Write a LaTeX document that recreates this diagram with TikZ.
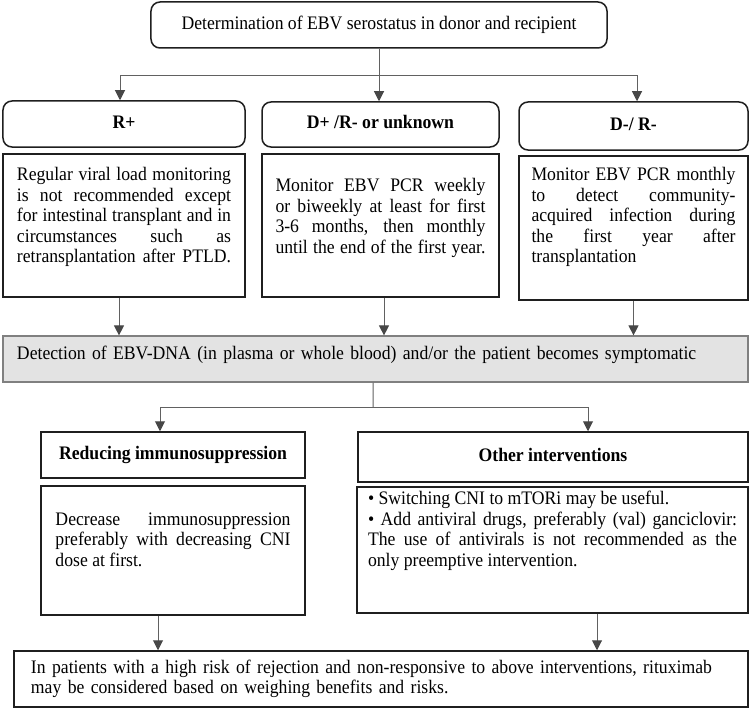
\documentclass[tikz,border=0pt]{standalone}
\usepackage{fontspec}
\setmainfont{Liberation Serif}[FakeStretch=0.925]
\usetikzlibrary{arrows.meta,calc}
\newcommand{\jl}[1]{\makebox[\hsize][s]{\spaceskip=0.25em plus 2em\relax #1}}
\newcommand{\lowpad}[1]{\rule[-#1bp]{0pt}{#1bp}}
\begin{document}
\begin{tikzpicture}[x=1bp,y=-1bp,
  txt/.style={font=\fontsize{19.1bp}{20.5bp}\selectfont, text=black},
  box/.style={txt, draw=black!88, line width=1.5bp, inner sep=0pt, align=justify},
  lbox/.style={box, align=left},
  rbox/.style={box, rounded corners=9bp, align=center},
  head/.style={box, align=center, font=\fontsize{19.1bp}{20.5bp}\selectfont\bfseries, text height=13.1bp, text depth=4.1bp},
  rhead/.style={head, rounded corners=9bp},
  conn/.style={draw=black!62, line width=1bp},
  arr/.style={conn, -{Triangle[width=10bp,length=10bp,fill=black!72,color=black!72]}},
]
\useasboundingbox (0,0) rectangle (750,709);

% top
\node[rbox, minimum width=456bp, minimum height=46bp] (top) at (379,25)
  {Determination of EBV serostatus in donor and recipient};

% headers row 1
\node[rhead, minimum width=242bp, minimum height=46bp] (h1) at (124,124) {R+};
\node[rhead, minimum width=237bp, minimum height=45bp] (h2) at (380.5,124.5) {D+ /R- or unknown};
\node[rhead, minimum width=229bp, minimum height=48bp] (h3) at (633.5,126) {D-/ R-};

% content row 1
\node[box, minimum width=242bp, minimum height=143bp, text width=214bp] (c1) at (124,225.5)
  {\jl{Regular viral load monitoring}\\
   \jl{is not recommended except}\\
   \jl{for intestinal transplant and in}\\
   \jl{circumstances such as}\\
   \jl{retransplantation after PTLD.}\lowpad{21}};
\node[box, minimum width=237bp, minimum height=143bp, text width=210bp] (c2) at (380.5,225.5)
  {\jl{Monitor EBV PCR weekly}\\
   \jl{or biweekly at least for first}\\
   \jl{3-6 months, then monthly}\\
   \jl{until the end of the first year.}\lowpad{19}};
\node[box, minimum width=229bp, minimum height=144bp, text width=204bp] (c3) at (633.5,228)
  {\jl{Monitor EBV PCR monthly}\\
   \jl{to detect community-}\\
   \jl{acquired infection during}\\
   \jl{the first year after}\\
   transplantation\lowpad{26}};

% detection bar
\node[lbox, draw=black!50, line width=1.2bp, fill=black!11, minimum width=745bp, minimum height=46bp, text width=717bp] (bar) at (375.5,359)
  {Detection of EBV-DNA (in plasma or whole blood) and/or the patient becomes symptomatic\lowpad{12}};

% headers row 2
\node[head, minimum width=264bp, minimum height=46bp] (h4) at (173,455) {Reducing immunosuppression};
\node[head, minimum width=390bp, minimum height=50bp] (h5) at (553,457) {Other interventions};

% content row 2
\node[box, minimum width=264bp, minimum height=129bp, text width=235bp] (c4) at (173,550.5)
  {\jl{Decrease immunosuppression}\\
   \jl{preferably with decreasing CNI}\\
   dose at first.\lowpad{22}};
\node[box, minimum width=391bp, minimum height=126bp, text width=369bp] (c5) at (552.5,550)
  {• Switching CNI to mTORi may be useful.\\
   \jl{• Add antiviral drugs, preferably (val) ganciclovir:}\\
   \jl{The use of antivirals is not recommended as the}\\
   only preemptive intervention.\lowpad{42}};

% bottom
\node[lbox, minimum width=734bp, minimum height=56bp, text width=700bp] (bot) at (381,679)
  {In patients with a high risk of rejection and non-responsive to above interventions, rituximab\\
   may be considered based on weighing benefits and risks.};

% connectors
\coordinate (j1) at (379,75.5);
\draw[conn] (top.south) -- (j1);
\draw[arr] (j1) -| ([xshift=-4bp]h1.north);
\draw[arr] (j1) -- (h2.north -| j1);
\draw[arr] (j1) -| ([xshift=3.5bp]h3.north);

\draw[arr] ([xshift=-5bp]c1.south) -- ([xshift=-5bp]c1.south |- bar.north);
\draw[arr] ([xshift=3.5bp]c2.south) -- ([xshift=3.5bp]c2.south |- bar.north);
\draw[arr] (c3.south) -- (c3.south |- bar.north);

\coordinate (j2) at (373,407);
\draw[conn] ([xshift=-2.5bp]bar.south) -- (j2);
\draw[arr] (j2) -| ([xshift=-13bp]h4.north);
\draw[arr] (j2) -| ([xshift=35bp]h5.north);

\draw[arr] ([xshift=-15bp]c4.south) -- ([xshift=-15bp]c4.south |- bot.north);
\draw[arr] ([xshift=44.5bp]c5.south) -- ([xshift=44.5bp]c5.south |- bot.north);
\end{tikzpicture}
\end{document}
